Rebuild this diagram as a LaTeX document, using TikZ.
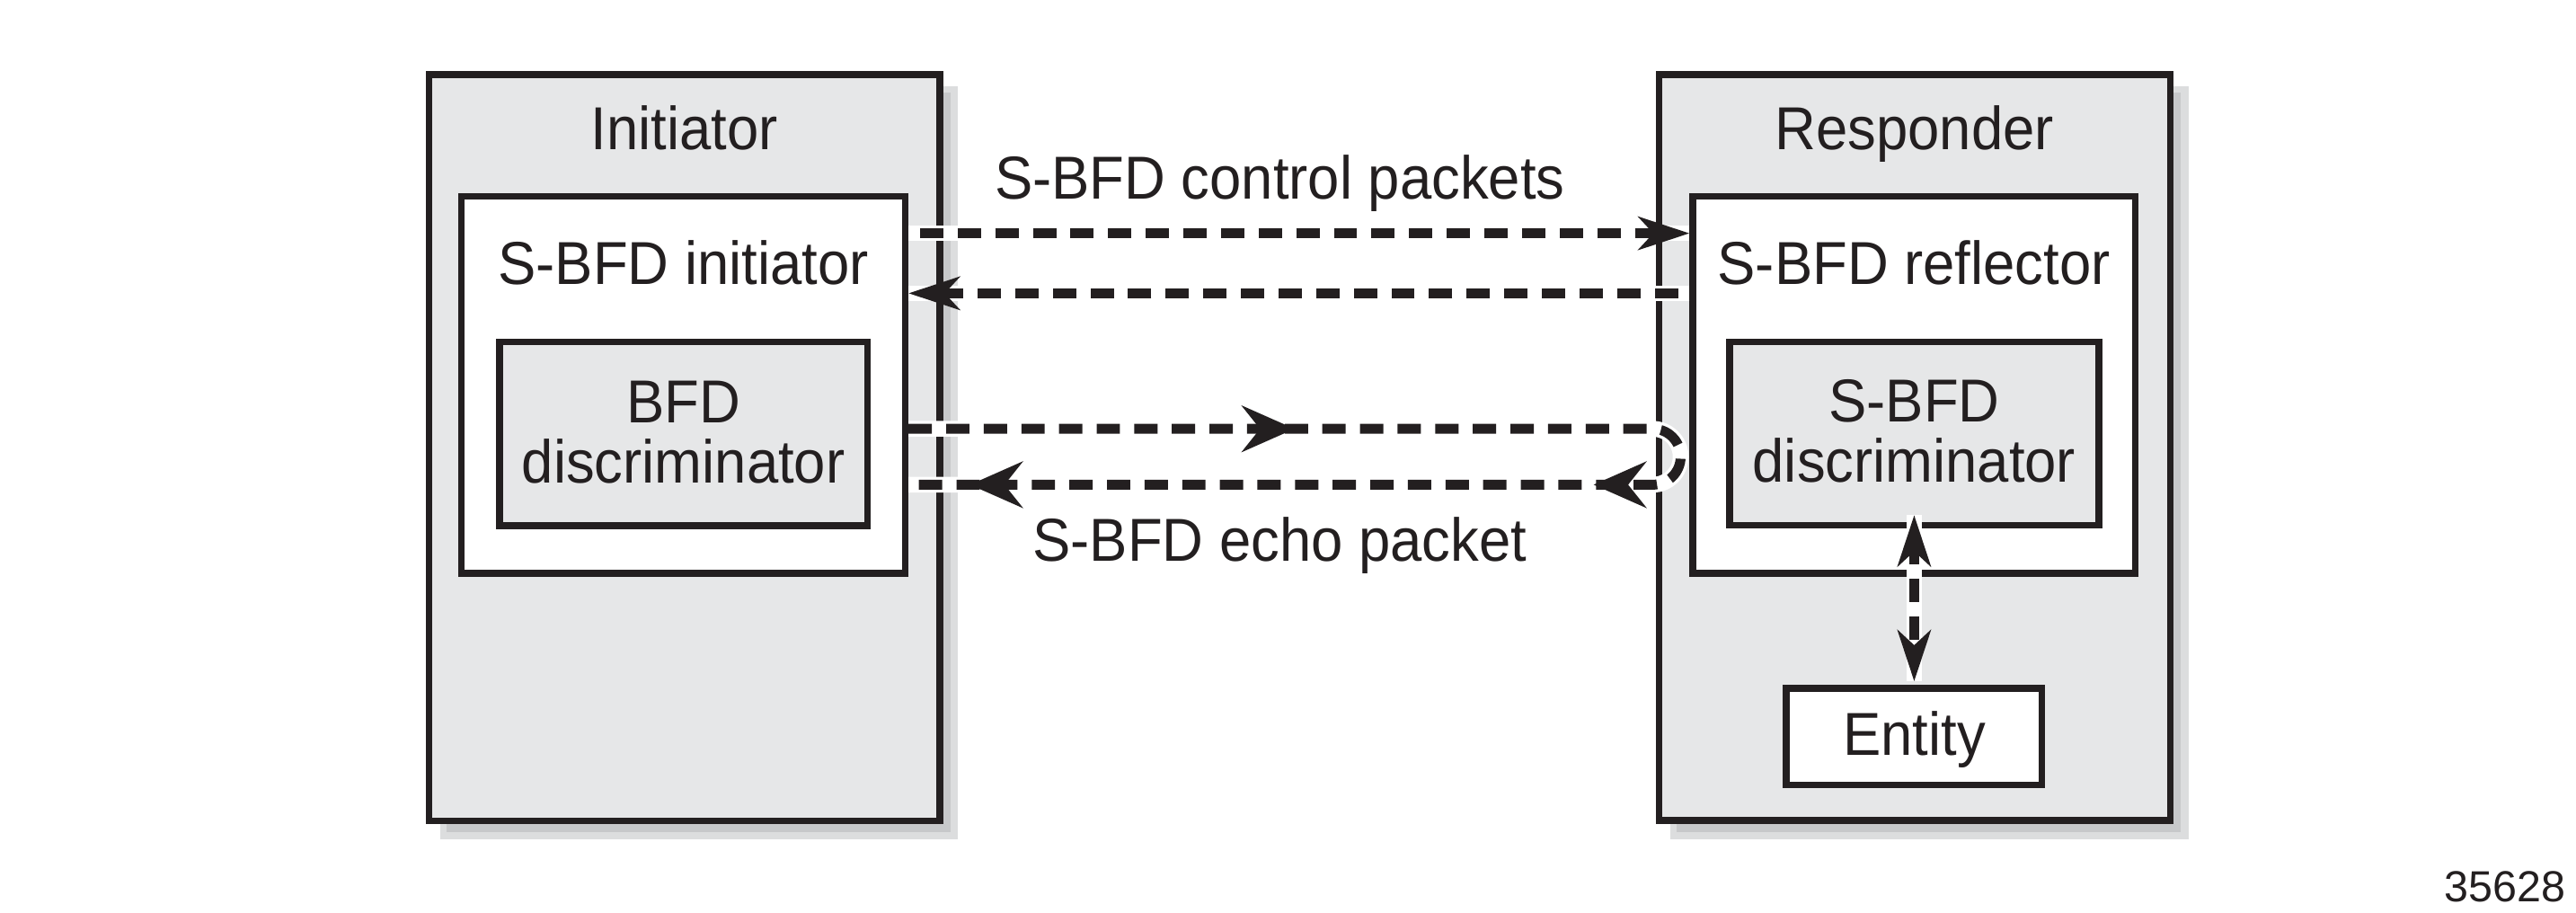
\documentclass[tikz,border=0pt]{standalone}
\usepackage{fontspec}
\setmainfont{Liberation Sans}[FakeStretch=0.94]
\newfontfamily\numfont{Liberation Sans}
\usetikzlibrary{arrows.meta,decorations.markings,fit}
\definecolor{boxgray}{HTML}{E6E7E8}
\definecolor{shdark}{HTML}{C7C8CA}
\definecolor{shlight}{HTML}{DCDDDE}
\definecolor{ink}{HTML}{231F20}
\tikzset{
  box/.style={draw=ink, line width=2pt, inner sep=0pt},
  graybox/.style={box, fill=boxgray},
  whitebox/.style={box, fill=white},
  lbl/.style={inner sep=0pt, text=ink, font=\fontsize{18.45pt}{18.2pt}\selectfont},
  chead/.tip={Stealth[length=15.5pt,width=10pt,inset=4.5pt]},
  ehead/.tip={Stealth[length=16pt,width=14pt,inset=5.5pt]},
  casing/.style={preaction={draw=white, solid, line width=4.8pt, -}},
  dashline/.style={draw=ink, line width=3pt, line join=miter, dash pattern=on 7.1pt off 4.35pt},
  ctrl/.style={dashline, dash phase=7.95pt, casing, -chead},
  vert/.style={dashline, dash phase=2pt, chead-chead, shorten <=-4.1pt, shorten >=1.1pt,
    preaction={draw=white, solid, line width=4.8pt, -, shorten <=-4.1pt, shorten >=1.1pt}},
  echo/.style={dashline, casing,
    postaction={decorate, solid},
    decoration={markings,
      mark=at position 117.5pt with {\arrow{ehead}},
      mark=at position 271.2pt with {\arrow{ehead}},
      mark=at position 461pt with {\arrow{ehead}}}},
}
\newcommand\boxshadow[1]{%
  \fill[shlight] ([xshift=4.5pt,yshift=-4.5pt]#1.north west) rectangle ([xshift=4.5pt,yshift=-4.6pt]#1.south east);
  \fill[shdark] ([xshift=6.5pt,yshift=-6.5pt]#1.north west) rectangle ([xshift=2.25pt,yshift=-2.5pt]#1.south east);
}
\begin{document}
\begin{tikzpicture}[x=0.5pt,y=-0.5pt]
\useasboundingbox (0,0) rectangle (1568,555.66);

% outer boxes (shadow path first)
\path node[fit={(261,45.4) (572,499.5)}, inner sep=0pt, outer sep=1pt] (ini) {}
      node[fit={(1009.7,45.4) (1321,499.4)}, inner sep=0pt, outer sep=1pt] (resp) {};
\boxshadow{ini}
\boxshadow{resp}
\node[graybox, fit={(261,45.4) (572,499.5)}] (inibox) {};
\node[graybox, fit={(1009.7,45.4) (1321,499.4)}] (respbox) {};

% inner boxes
\node[whitebox, fit={(281,119.6) (551,349)}] (sbi) {};
\node[graybox, fit={(304,208) (528,320)}] (bdisc) {};
\node[whitebox, fit={(1030.4,119.6) (1299.7,349)}] (sbr) {};
\node[graybox, fit={(1052.8,208) (1277.5,319.7)}] (sdisc) {};
\node[whitebox, fit={(1087.3,418.9) (1243,477.8)}] (ent) {};

% labels
\node[lbl, anchor=base] (tini) at (416.5,90.8) {Initiator};
\node[lbl, anchor=base] (tresp) at (1165.35,90.8) {Responder};
\node[lbl, anchor=base] (tsbi) at (416,173.2) {S-BFD initiator};
\node[lbl, anchor=base] (tsbr) at (1165,173.2) {S-BFD reflector};
\node[lbl, anchor=north, align=center] (tbdisc) at (416,231.6) {BFD\\discriminator};
\node[lbl, anchor=north, align=center] (tsdisc) at (1165.15,230.6) {S-BFD\\discriminator};
\node[lbl, anchor=base] (tent) at (1165.15,459.8) {Entity};
\node[lbl, anchor=base] (tctrl) at (779,121.2) {S-BFD control packets};
\node[lbl, anchor=base] (techo) at (779,341.3) {S-BFD echo packet};
\node[inner sep=0pt, text=ink, anchor=base east, font=\numfont\fontsize{13.25pt}{15pt}\selectfont] (fig) at (1562,549) {35628};

% connectors
\coordinate (c1) at (0,142);
\coordinate (c2) at (0,178.5);
\coordinate (e1) at (0,261);
\coordinate (e2) at (0,295);
\coordinate (turn) at (1006,261);

\draw[ctrl] (sbi.east |- c1) -- (sbr.west |- c1);
\draw[ctrl] (sbr.west |- c2) -- (sbi.east |- c2);
\draw[echo] (sbi.east |- e1) -- (turn) arc[start angle=90, end angle=-90, radius=8.5pt] -- (sbi.east |- e2);
\draw[vert] (sdisc.south) -- (ent.north);
\end{tikzpicture}
\end{document}
